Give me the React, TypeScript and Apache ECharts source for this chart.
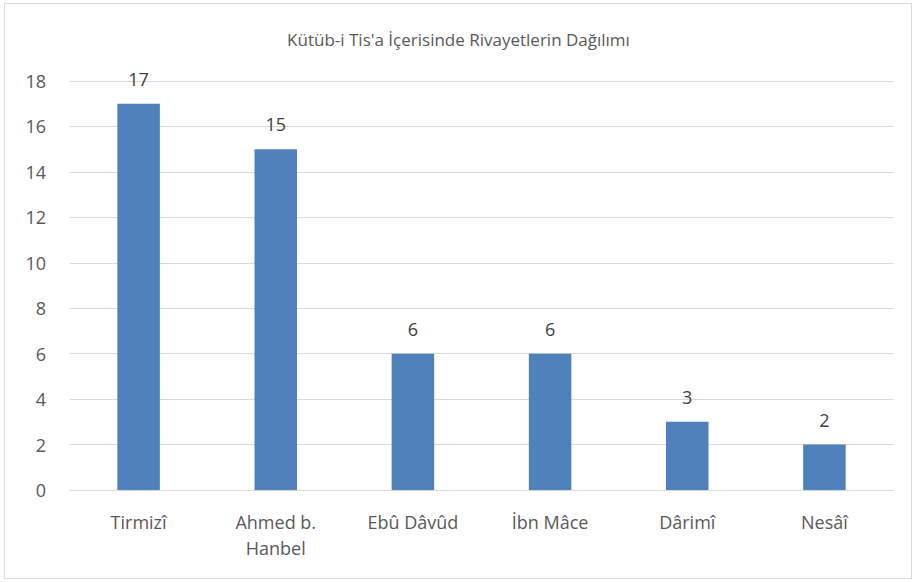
import React, { useEffect, useRef } from "react";
import * as echarts from "echarts";

const categories = ["Tirmizî", "Ahmed b.\nHanbel", "Ebû Dâvûd", "İbn Mâce", "Dârimî", "Nesâî"];
const values = [17, 15, 6, 6, 3, 2];
const titleText = "Kütüb-i Tis'a İçerisinde Rivayetlerin Dağılımı";

export default function App() {
  const ref = useRef<HTMLDivElement>(null);
  useEffect(() => {
    const chart = echarts.init(ref.current!, null, { renderer: "svg" });
    const font = "Open Sans, Roboto, sans-serif";
    chart.setOption({
      animation: false,
      title: {
        text: titleText,
        left: "center",
        top: 26,
        textStyle: { fontFamily: font, fontSize: 17, fontWeight: "normal", color: "#595959" },
      },
      grid: { left: 70, right: 24, top: 81, bottom: 92 },
      xAxis: {
        type: "category",
        data: categories,
        axisLine: { lineStyle: { color: "#D9D9D9", width: 1 } },
        axisTick: { show: false },
        axisLabel: {
          color: "#595959",
          fontFamily: font,
          fontSize: 18,
          margin: 19,
          lineHeight: 26,
          interval: 0,
        },
      },
      yAxis: {
        type: "value",
        min: 0,
        max: 18,
        interval: 2,
        axisLine: { show: false },
        axisTick: { show: false },
        splitLine: { lineStyle: { color: "#D9D9D9", width: 1 } },
        axisLabel: { color: "#595959", fontFamily: font, fontSize: 18, margin: 24 },
      },
      series: [
        {
          type: "bar",
          data: values,
          barWidth: "31%",
          itemStyle: { color: "#4F81BD" },
          label: {
            show: true,
            position: "top",
            distance: 16,
            color: "#404040",
            fontFamily: font,
            fontSize: 18,
          },
        },
      ],
    });
    return () => chart.dispose();
  }, []);
  return (
    <div
      style={{
        position: "absolute",
        left: 0,
        top: 0,
        width: 917,
        height: 582,
        background: "#fff",
      }}
    >
      <div ref={ref} style={{ position: "absolute", left: 0, top: 0, width: 917, height: 582 }} />
      <div
        style={{
          position: "absolute",
          left: 4,
          top: 3,
          width: 908,
          height: 576,
          border: "1px solid #D9D9D9",
          boxSizing: "border-box",
          pointerEvents: "none",
        }}
      />
    </div>
  );
}
